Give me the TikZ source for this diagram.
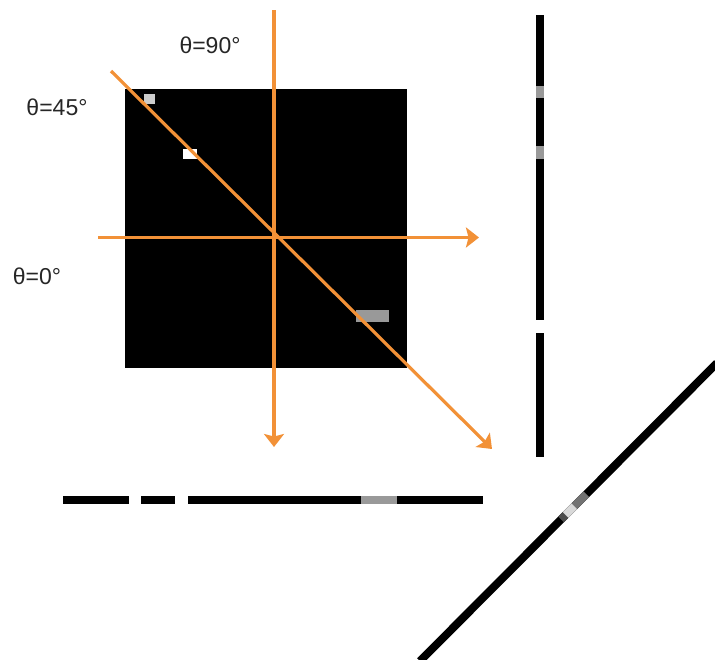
\documentclass[tikz,border=0pt]{standalone}
\usepackage{fontspec}
\setmainfont{Liberation Sans}
\usetikzlibrary{arrows.meta,calc}
\definecolor{rayorange}{RGB}{242,145,55}
\begin{document}
\begin{tikzpicture}[x=1pt,y=-1pt,
		ray/.style={rayorange, line width=3.2pt, -{Stealth[length=13pt,width=20pt,inset=2.5pt]}},
		bar/.style={black, line width=8pt},
		greybit/.style={black!40, line width=8pt},
		spot/.style={draw=none, minimum size=0pt, inner sep=0pt},
		anglelabel/.style={font=\fontsize{23}{27}\selectfont, text=black!85, inner sep=0pt}]
	\useasboundingbox (0,0) rectangle (715,659);
	
	% image with three bright spots
	\node[spot, fill=black, minimum width=282pt, minimum height=279pt] (img) at (266,228.5) {};
	\node[spot, fill=black!20, minimum width=11pt, minimum height=10pt] (p1) at (149.5,99) {};
	\node[spot, fill=white, minimum width=14pt, minimum height=10pt] (p2) at (190,154) {};
	\node[spot, fill=black!40, minimum width=33pt, minimum height=12pt] (p3) at (372.5,315.5) {};
	
	% projection directions
	\coordinate (v_top) at (274,10);
	\coordinate (v_end) at (274,447);
	\coordinate (h_start) at (98,237.5);
	\coordinate (h_end) at (479,237.5);
	\coordinate (d_start) at (111,71);
	\coordinate (d_end) at (492,449);
	\draw[ray] (v_top) -- (v_end);
	\draw[ray] (h_start) -- (h_end);
	\draw[ray] (d_start) -- (d_end);
	
	\node[anglelabel] (lab90) at (210,45) {θ=90°};
	\node[anglelabel] (lab45) at (57,107) {θ=45°};
	\node[anglelabel] (lab0) at (37,276) {θ=0°};
	
	% projection for theta = 0 (right)
	\draw[bar] (540,15) -- (540,320);
	\draw[greybit] (540,86) -- (540,98);
	\draw[greybit] (540,146) -- (540,159);
	\draw[bar] (540,333) -- (540,457);
	
	% projection for theta = 90 (below)
	\draw[bar] (63,500) -- (129,500);
	\draw[bar] (141,500) -- (175,500);
	\draw[bar] (188,500) -- (483,500);
	\draw[greybit] (361,500) -- (397,500);
	
	% projection for theta = 45 (diagonal)
	\coordinate (s_start) at (420,661);
	\coordinate (s_end) at (717,363);
	\draw[bar] (s_start) -- (s_end);
	\draw[black!70, line width=8pt] ($(s_start)!0.475!(s_end)$) -- ($(s_start)!0.49!(s_end)$);
	\draw[white!85!black, line width=8pt] ($(s_start)!0.49!(s_end)$) -- ($(s_start)!0.52!(s_end)$);
	\draw[black!55, line width=8pt] ($(s_start)!0.52!(s_end)$) -- ($(s_start)!0.56!(s_end)$);
\end{tikzpicture}
\end{document}
